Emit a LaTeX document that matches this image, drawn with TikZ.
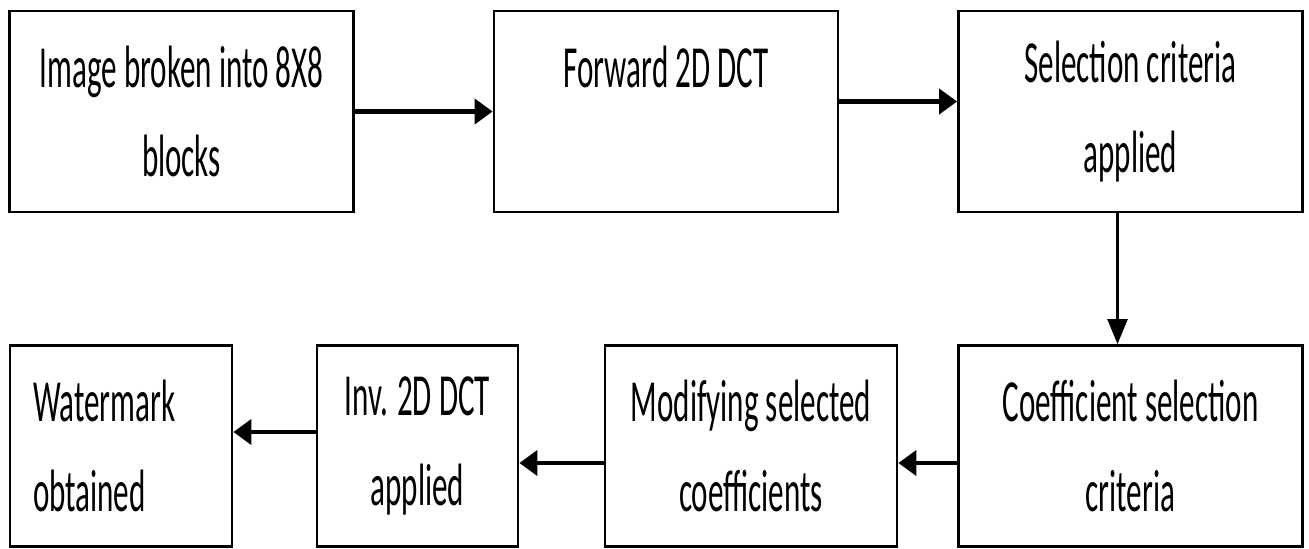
\documentclass[tikz,border=0pt]{standalone}
\usepackage{fontspec}
\setmainfont[FakeStretch=0.52]{Carlito}
\usetikzlibrary{arrows.meta,positioning}
\tikzset{
  >={Triangle[length=3.6mm,width=5mm]},
  block/.style={draw, line width=1.6pt, align=center, minimum width=6.88cm, minimum height=4.02cm, font=\fontsize{34}{51}\selectfont},
  narrowblock/.style={block, minimum width=#1},
  flow/.style={->, line width=2.4pt},
  thinflow/.style={->, line width=1.4pt, >={Triangle[length=5mm,width=4mm]}},
}
\begin{document}
\begin{tikzpicture}
  \useasboundingbox (0,0) rectangle (26.18,-10.96);
  % top row
  \node[block] (split) at (3.63,-2.23) {Image broken into 8X8\\blocks};
  \node[block] (fdct) at (13.32,-2.23) {Forward 2D DCT\\\phantom{blocks}};
  \node[block] (select) at (22.61,-2.23) {Selection criteria\\applied};

  % bottom row
  \node[block] (coef) at (22.61,-8.92) {Coefficient selection\\criteria};
  \node[narrowblock=5.84cm] (modify) at (15.02,-8.92) {Modifying selected\\coefficients};
  \node[narrowblock=4.02cm] (idct) at (8.35,-8.92) {Inv. 2D DCT\\applied};
  \node[narrowblock=4.44cm, align=left, text width=3.52cm, inner xsep=0.46cm] (wmark) at (2.42,-8.92) {Watermark\\obtained};

  \draw[flow] (split) -- (fdct);
  \draw[flow] ([yshift=2mm]fdct.east) -- ([yshift=2mm]select.west);
  \draw[thinflow] ([xshift=-2.6mm]select.south) -- ([xshift=-2.6mm]coef.north);
  \draw[flow] ([yshift=-3.4mm]coef.west) -- ([yshift=-3.4mm]modify.east);
  \draw[flow] ([yshift=-3.4mm]modify.west) -- ([yshift=-3.4mm]idct.east);
  \draw[flow] ([yshift=2.8mm]idct.west) -- ([yshift=2.8mm]wmark.east);
\end{tikzpicture}
\end{document}
